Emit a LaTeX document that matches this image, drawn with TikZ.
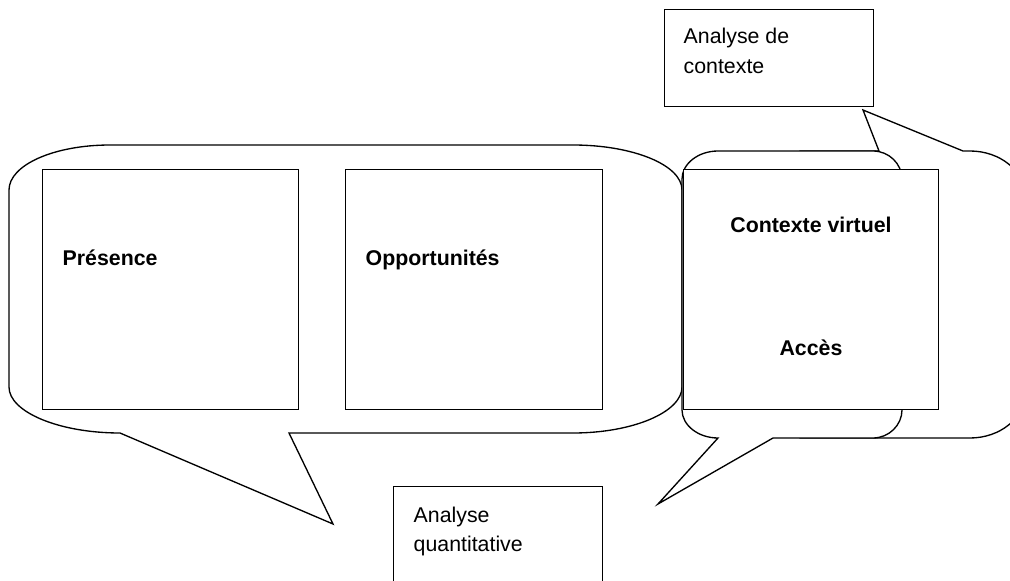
\documentclass[tikz,border=0pt]{standalone}
\usepackage{fontspec}
\setmainfont{Liberation Sans}
\begin{document}
\begin{tikzpicture}[x=0.75pt,y=-0.75pt,line width=1pt,
  bubble/.style={draw=black,fill=white,line join=miter},
  box/.style={draw=black,fill=white,rectangle,inner sep=0pt,anchor=north west},
  lbl/.style={anchor=base west,inner sep=0pt,font=\fontsize{16}{19}\selectfont},
  blbl/.style={inner sep=0pt,font=\fontsize{16}{19}\selectfont\bfseries}]
\useasboundingbox (0,0) rectangle (1010,581);
\clip (0,0) rectangle (1010,581);
% callout A (left, tail down)
\coordinate (tipA) at (333,524);
\draw[bubble] (9,190) -- (9,387) .. controls (9,412) and (59,433) .. (120,433)
  -- (tipA) -- (289,433) -- (573,433) .. controls (633,433) and (682,412) .. (682,387)
  -- (682,190) .. controls (682,165) and (633,145) .. (573,145) -- (110,145)
  .. controls (54,145) and (9,165) .. (9,190) -- cycle;
% callout B (right, tail up)
\coordinate (tipB) at (863,110);
\draw[bubble] (800,151) -- (800,438) -- (970,438) .. controls (1000,438) and (1025,418) .. (1025,393)
  -- (1025,196) .. controls (1025,171) and (1000,151) .. (970,151) -- (963,151)
  -- (tipB) -- (879,151) -- cycle;
% callout C (middle, tail down-left)
\coordinate (tipC) at (658,504);
\draw[bubble] (682,179) -- (682,410) .. controls (682,425) and (698,438) .. (718,438)
  -- (tipC) -- (773,438) -- (873,438) .. controls (889,438) and (902,425) .. (902,410)
  -- (902,179) .. controls (902,164) and (889,151) .. (873,151) -- (718,151)
  .. controls (698,151) and (682,164) .. (682,179) -- cycle;
% boxes
\node[box,minimum width=192pt,minimum height=180pt] (pres) at (42,169) {};
\node[box,minimum width=192.75pt,minimum height=180pt] (opp) at (345,169) {};
\node[box,minimum width=191.25pt,minimum height=180pt] (ctx) at (683,169) {};
\node[box,minimum width=156.75pt,minimum height=72.75pt] (actx) at (664,9) {};
\node[box,minimum width=156.75pt,minimum height=85.5pt] (aq) at (393,486) {};
% texts
\node[blbl,anchor=base west] (tpres) at (62,265) {Présence};
\node[blbl,anchor=base west] (topp) at (365,265) {Opportunités};
\node[blbl,anchor=base] (tctx) at (811,232) {Contexte virtuel};
\node[blbl,anchor=base] (tacc) at (811,355) {Accès};
\node[lbl] (tactx1) at (683,44) {Analyse de};
\node[lbl] (tactx2) at (683,74) {contexte};
\node[lbl] (taq1) at (413,522) {Analyse};
\node[lbl] (taq2) at (413,551) {quantitative};
\end{tikzpicture}
\end{document}
